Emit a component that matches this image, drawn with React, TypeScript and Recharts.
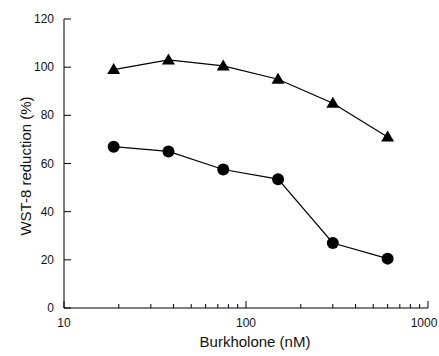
import { LineChart, Line, XAxis, YAxis } from 'recharts';

// concentrations in nM
const concentrations = [18.75, 37.5, 75, 150, 300, 600];
const triangleSeries = [99, 103, 100.5, 95, 85, 71];
const circleSeries = [67, 65, 57.5, 53.5, 27, 20.5];

const yTicks = [0, 20, 40, 60, 80, 100, 120];
const xMajorTicks = [10, 100, 1000];
const xTicks = [10, 20, 30, 40, 50, 60, 70, 80, 90, 100, 200, 300, 400, 500, 600, 700, 800, 900, 1000];

const data = concentrations.map((c, i) => ({
  conc: c,
  tri: triangleSeries[i],
  circ: circleSeries[i],
}));

const FONT = '"Liberation Sans", Arial, sans-serif';

const XTick = ({ x, y, payload }: any) => {
  const major = xMajorTicks.includes(payload.value);
  // last label nudged left so it stays inside the picture
  const shift = payload.value === 1000 ? -4 : 0;
  return (
    <g>
      <line x1={x} x2={x} y1={y} y2={y - (major ? 7 : 4)} stroke="#000" strokeWidth={1} />
      {major && (
        <text x={x + shift} y={y + 18.5} textAnchor="middle" fontSize={12} fontFamily={FONT} fill="#111">
          {payload.value}
        </text>
      )}
    </g>
  );
};

const YTick = ({ x, y, payload }: any) => (
  <g>
    <line x1={x} x2={x + 7} y1={y} y2={y} stroke="#000" strokeWidth={1} />
    <text x={x - 10} y={y + 4} textAnchor="end" fontSize={12} fontFamily={FONT} fill="#111">
      {payload.value}
    </text>
  </g>
);

const Triangle = ({ cx, cy }: any) => {
  if (cx == null || cy == null) return null;
  return <polygon points={`${cx - 6.5},${cy + 4.5} ${cx + 6.5},${cy + 4.5} ${cx},${cy - 6.5}`} fill="#000" />;
};

const Circle = ({ cx, cy }: any) => {
  if (cx == null || cy == null) return null;
  return <circle cx={cx} cy={cy} r={6} fill="#000" />;
};

export default function App() {
  return (
    <div style={{ position: 'absolute', left: 0, top: 0, background: '#fff' }}>
      <LineChart width={439} height={356} data={data} margin={{ top: 19, right: 11, bottom: 0, left: 0 }}>
        <XAxis
          dataKey="conc"
          type="number"
          scale="log"
          domain={[10, 1000]}
          ticks={xTicks}
          interval={0}
          height={48}
          tickSize={0}
          tickMargin={0}
          tickLine={false}
          axisLine={{ stroke: '#000', strokeWidth: 1 }}
          tick={<XTick />}
          allowDataOverflow
          label={{
            content: () => (
              <text x={255} y={347} textAnchor="middle" fontSize={15} fontFamily={FONT} fill="#111">
                Burkholone (nM)
              </text>
            ),
          }}
        />
        <YAxis
          type="number"
          domain={[0, 120]}
          ticks={yTicks}
          interval={0}
          width={64}
          tickSize={0}
          tickMargin={0}
          tickLine={false}
          axisLine={{ stroke: '#000', strokeWidth: 1 }}
          tick={<YTick />}
          label={{
            content: () => (
              <text
                x={25}
                y={166}
                transform="rotate(-90 25 166)"
                textAnchor="middle"
                dominantBaseline="central"
                fontSize={15}
                fontFamily={FONT}
                fill="#111"
              >
                WST-8 reduction (%)
              </text>
            ),
          }}
        />
        <Line dataKey="tri" stroke="#000" strokeWidth={1.2} dot={<Triangle />} activeDot={false} isAnimationActive={false} />
        <Line dataKey="circ" stroke="#000" strokeWidth={1.2} dot={<Circle />} activeDot={false} isAnimationActive={false} />
      </LineChart>
    </div>
  );
}
